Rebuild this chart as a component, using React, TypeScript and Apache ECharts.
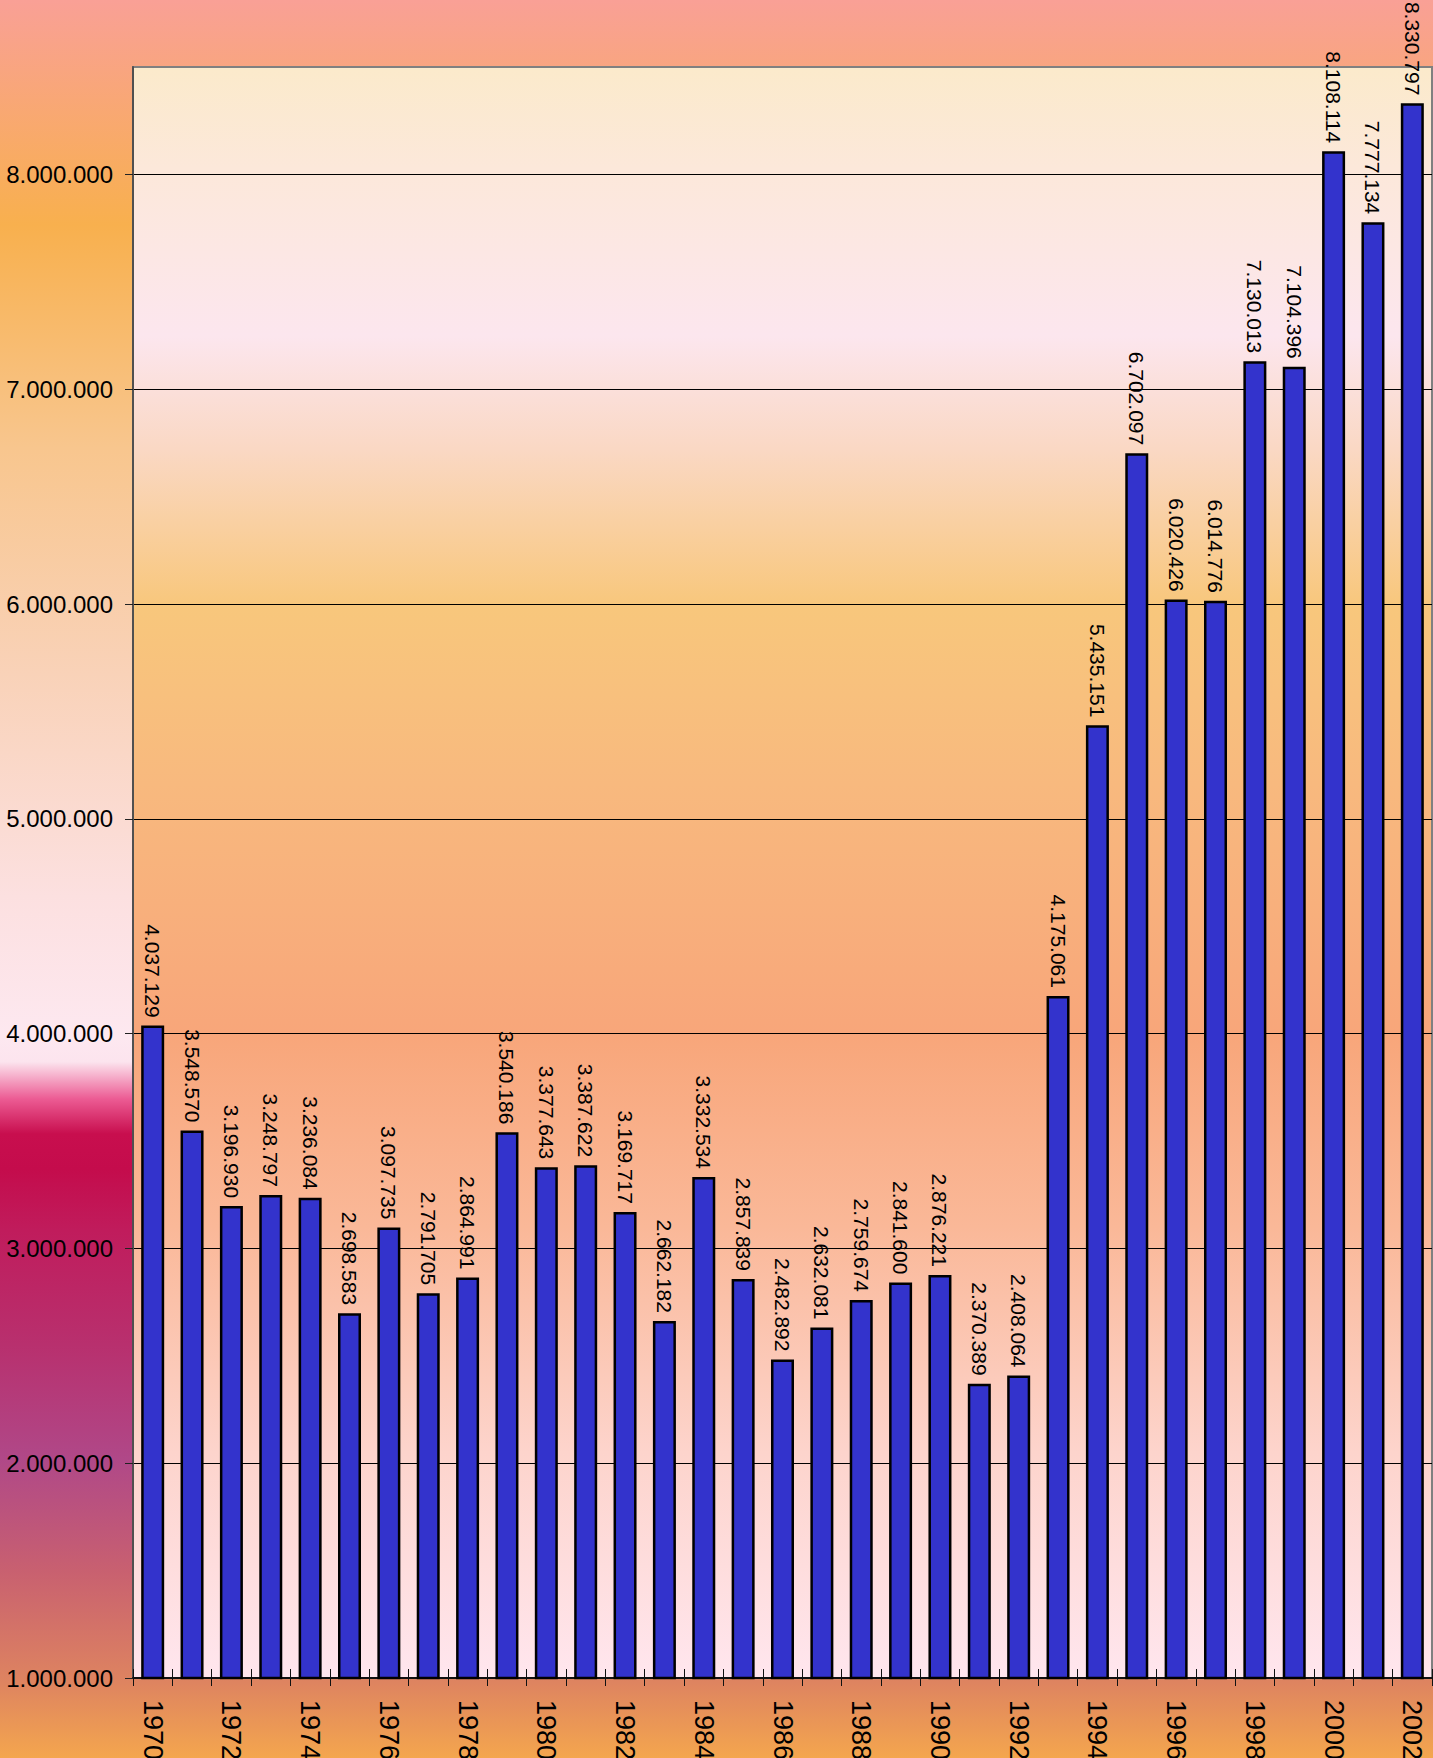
import React, { useEffect, useRef } from "react";
import * as echarts from "echarts";

const years = [
  "1970", "1971", "1972", "1973", "1974", "1975", "1976", "1977", "1978", "1979",
  "1980", "1981", "1982", "1983", "1984", "1985", "1986", "1987", "1988", "1989",
  "1990", "1991", "1992", "1993", "1994", "1995", "1996", "1997", "1998", "1999",
  "2000", "2001", "2002",
];

const values = [
  4037129, 3548570, 3196930, 3248797, 3236084, 2698583, 3097735, 2791705, 2864991, 3540186,
  3377643, 3387622, 3169717, 2662182, 3332534, 2857839, 2482892, 2632081, 2759674, 2841600,
  2876221, 2370389, 2408064, 4175061, 5435151, 6702097, 6020426, 6014776, 7130013, 7104396,
  8108114, 7777134, 8330797,
];

const yTicks = [1000000, 2000000, 3000000, 4000000, 5000000, 6000000, 7000000, 8000000];

const fmt = (v: number) => String(Math.round(v)).replace(/\B(?=(\d{3})+(?!\d))/g, ".");

const pageGradient =
  "linear-gradient(to bottom, #F9A096 0%, #F8B04E 12.8%, #F8C68E 25.5%, #F9D2B8 38.3%, #FCE0E0 51%, #FDE8F0 59%, #FCE4EE 60.4%, #EC5C94 62.5%, #C80E4E 64.5%, #C40C4C 66.5%, #C01C5C 70%, #B8306E 76.5%, #B04888 83%, #C86070 89.3%, #DE8460 95.7%, #F4A64E 100%)";

export default function App() {
  const ref = useRef<HTMLDivElement>(null);

  useEffect(() => {
    if (!ref.current) return;
    const chart = echarts.init(ref.current, undefined, { renderer: "svg" });

    const plotGradient = new echarts.graphic.LinearGradient(0, 0, 0, 1, [
      { offset: 0, color: "#FBEACB" },
      { offset: 0.063, color: "#FCE8DA" },
      { offset: 0.167, color: "#FCE6EE" },
      { offset: 0.237, color: "#FAD8C4" },
      { offset: 0.334, color: "#F8C77C" },
      { offset: 0.445, color: "#F8B97E" },
      { offset: 0.6, color: "#F8A67A" },
      { offset: 0.72, color: "#FAB898" },
      { offset: 0.86, color: "#FDD4CC" },
      { offset: 1, color: "#FFE6EE" },
    ]);

    const baseFont = "'Liberation Sans', Arial, sans-serif";

    chart.setOption({
      animation: false,
      backgroundColor: "transparent",
      grid: {
        left: 133,
        top: 67,
        right: 1,
        bottom: 80,
        show: true,
        backgroundColor: plotGradient,
        borderColor: "#808080",
        borderWidth: 2,
        containLabel: false,
        outerBoundsMode: "none",
      },
      xAxis: [
        {
          type: "category",
          data: years,
          position: "bottom",
          axisLine: { show: true, lineStyle: { color: "#111", width: 2 } },
          axisTick: { show: true, interval: 0, length: 8, lineStyle: { color: "#111", width: 1 } },
          axisLabel: {
            show: true,
            interval: 1,
            rotate: -90,
            margin: 22,
            fontSize: 27,
            color: "#000",
            fontFamily: baseFont,
          },
          splitLine: { show: false },
        },
        {
          type: "category",
          data: years,
          position: "bottom",
          axisLine: { show: false },
          axisTick: { show: true, inside: true, interval: 0, length: 9, lineStyle: { color: "#111", width: 1 } },
          axisLabel: { show: false },
          splitLine: { show: false },
        },
      ],
      yAxis: {
        type: "value",
        min: 1000000,
        max: 8500000,
        interval: 1000000,
        axisLine: { show: true, lineStyle: { color: "#505050", width: 2 } },
        axisTick: { show: true, length: 8, customValues: yTicks, lineStyle: { color: "#222", width: 1 } },
        axisLabel: {
          show: true,
          margin: 20,
          fontSize: 24,
          color: "#000",
          fontFamily: baseFont,
          customValues: yTicks,
          formatter: (v: number) => (v % 1000000 === 0 ? fmt(v) : ""),
        },
        splitLine: { show: true, lineStyle: { color: "#000", width: 1 } },
      },
      series: [
        {
          type: "bar",
          xAxisIndex: 0,
          data: values,
          barWidth: 23,
          itemStyle: { color: "#3333CC", borderColor: "#000", borderWidth: 2.5 },
          label: {
            show: true,
            position: "top",
            rotate: -90,
            align: "right",
            verticalAlign: "middle",
            distance: 8,
            fontSize: 21,
            color: "#000",
            fontFamily: baseFont,
            formatter: (p: any) => fmt(p.value),
          },
        },
      ],
    });

    return () => chart.dispose();
  }, []);

  return (
    <div
      style={{
        position: "absolute",
        left: 0,
        top: 0,
        width: 1433,
        height: 1758,
        background: pageGradient,
        overflow: "hidden",
      }}
    >
      <div ref={ref} style={{ width: 1433, height: 1758 }} />
    </div>
  );
}
